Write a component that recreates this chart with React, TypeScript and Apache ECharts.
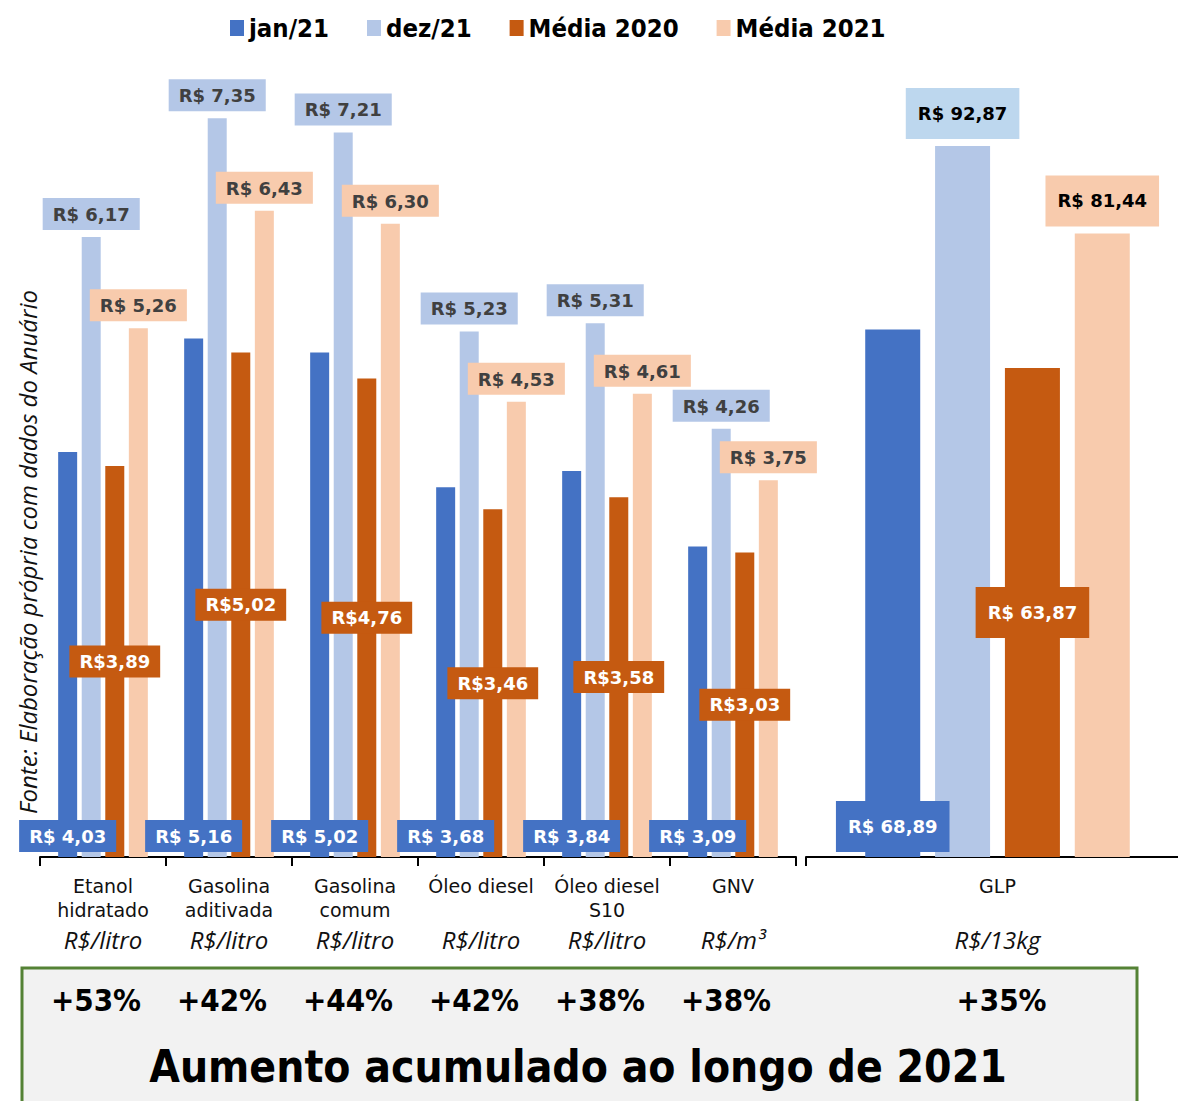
import React, { useEffect, useRef } from "react";
import * as echarts from "echarts";

// Fuel prices: January 2021, December 2021 and yearly averages
const categories = ["Etanol\nhidratado", "Gasolina\naditivada", "Gasolina\ncomum", "Óleo diesel", "Óleo diesel\nS10", "GNV"];
const units = ["R$/litro", "R$/litro", "R$/litro", "R$/litro", "R$/litro", "R$/m³"];
const jan21 = [4.03, 5.16, 5.02, 3.68, 3.84, 3.09];
const dez21 = [6.17, 7.35, 7.21, 5.23, 5.31, 4.26];
const media2020 = [3.89, 5.02, 4.76, 3.46, 3.58, 3.03];
const media2021 = [5.26, 6.43, 6.3, 4.53, 4.61, 3.75];

// GLP is priced per 13 kg cylinder, drawn on its own scale
const glpCategories = ["GLP"];
const glpUnits = ["R$/13kg"];
const glpJan21 = [68.89];
const glpDez21 = [92.87];
const glpMedia2020 = [63.87];
const glpMedia2021 = [81.44];

const seriesNames = ["jan/21", "dez/21", "Média 2020", "Média 2021"];
const colors = ["#4472c4", "#b4c7e7", "#c55a11", "#f8cbad"];

const LABEL_FONT = "'DejaVu Sans', sans-serif";
const COND_FONT = "'DejaVu Sans Condensed', 'DejaVu Sans', sans-serif";
const ITALIC_FONT = "'Open Sans', 'Noto Sans', sans-serif";

const money = (v: number, space = true) => "R$" + (space ? " " : "") + v.toFixed(2).replace(".", ",");

export default function App() {
  const ref = useRef<HTMLDivElement>(null);

  useEffect(() => {
    document.body.style.margin = "0";
    document.body.style.overflow = "hidden";
    document.documentElement.style.overflow = "hidden";
    const chart = echarts.init(ref.current!, null, { renderer: "svg" });

    const smallLabel = (pos: string, bg: string, color: string, space = true) => ({
      show: true,
      position: pos,
      distance: pos === "insideBottom" ? 5 : 7,
      formatter: (p: any) => money(p.value, space),
      color,
      backgroundColor: bg,
      padding: [6, 10, 5, 10],
      fontSize: 18,
      fontWeight: "bold",
      fontFamily: LABEL_FONT,
      lineHeight: 21,
    });
    const bigLabel = (pos: string, bg: string, color: string) => ({
      show: true,
      position: pos,
      distance: pos === "insideBottom" ? 5 : 7,
      formatter: (p: any) => money(p.value),
      color,
      backgroundColor: bg,
      padding: [14, 12, 14, 12],
      fontSize: 18,
      fontWeight: "bold",
      fontFamily: LABEL_FONT,
      lineHeight: 23,
    });

    const leftData = [jan21, dez21, media2020, media2021];
    const rightData = [glpJan21, glpDez21, glpMedia2020, glpMedia2021];
    const leftLabels = [
      smallLabel("insideBottom", colors[0], "#ffffff"),
      smallLabel("top", colors[1], "#404040"),
      smallLabel("inside", colors[2], "#ffffff", false),
      smallLabel("top", colors[3], "#404040"),
    ];
    const rightLabels = [
      bigLabel("insideBottom", colors[0], "#ffffff"),
      bigLabel("top", "#bdd7ee", "#000000"),
      bigLabel("inside", colors[2], "#ffffff"),
      bigLabel("top", colors[3], "#000000"),
    ];

    const series: any[] = [];
    seriesNames.forEach((name, i) => {
      series.push({
        name,
        type: "bar",
        xAxisIndex: 0,
        yAxisIndex: 0,
        data: leftData[i],
        barWidth: 19,
        barGap: "24%",
        itemStyle: { color: colors[i] },
        label: leftLabels[i],
      });
    });
    seriesNames.forEach((name, i) => {
      series.push({
        name,
        type: "bar",
        xAxisIndex: 1,
        yAxisIndex: 1,
        data: rightData[i],
        barWidth: 55,
        barGap: "27%",
        itemStyle: { color: colors[i] },
        label: rightLabels[i],
      });
    });

    const axisCommon = (data: string[], unitList: string[], gridIndex: number) => ({
      type: "category",
      gridIndex,
      data,
      axisLine: { show: true, lineStyle: { color: "#000", width: 2 } },
      axisTick: { show: true, length: 9, lineStyle: { color: "#000", width: 2 } },
      axisLabel: {
        interval: 0,
        margin: 17,
        formatter: (value: string, idx: number) => {
          const lines = value.split("\n");
          return `{a|${lines[0]}}\n{a|${lines[1] ?? " "}}\n{u|${unitList[idx]}}`;
        },
        rich: {
          a: { fontFamily: LABEL_FONT, fontSize: 19, color: "#111", lineHeight: 24, fontWeight: "normal" },
          u: { fontFamily: ITALIC_FONT, fontStyle: "italic", fontSize: 24, color: "#111", lineHeight: 34 },
        },
      },
    });

    chart.setOption({
      animation: false,
      legend: {
        data: seriesNames,
        left: 225,
        top: 10,
        icon: "rect",
        itemWidth: 14,
        itemHeight: 16,
        itemGap: 38,
        textStyle: { fontSize: 25.5, fontWeight: "bold", fontFamily: COND_FONT, color: "#000" },
      },
      grid: [
        { left: 40, top: 53, width: 756, height: 804 },
        { left: 806, top: 53, width: 383, height: 804 },
      ],
      xAxis: [axisCommon(categories, units, 0), axisCommon(glpCategories, glpUnits, 1)],
      yAxis: [
        { type: "value", gridIndex: 0, min: 0, max: 8, show: false, splitLine: { show: false } },
        { type: "value", gridIndex: 1, min: 0, max: 105, show: false, splitLine: { show: false } },
      ],
      series,
    });

    // Accumulated increase over 2021 (December vs January), placed under each category
    const increases = [
      ...jan21.map((v, i) => Math.round((dez21[i] / v - 1) * 100)),
      Math.round((glpDez21[0] / glpJan21[0] - 1) * 100),
    ];
    const centers = [
      ...categories.map((_, i) => (chart.convertToPixel({ xAxisIndex: 0 }, i) as number) - 7),
      (chart.convertToPixel({ xAxisIndex: 1 }, 0) as number) + 4,
    ];

    const graphic: any[] = [
      {
        type: "rect",
        shape: { x: 22, y: 968, width: 1115, height: 145 },
        style: { fill: "#f2f2f2", stroke: "#548235", lineWidth: 3 },
        z: -1,
      },
      ...increases.map((p, i) => ({
        type: "text",
        x: centers[i],
        y: 1000,
        style: {
          text: `+${p}%`,
          textAlign: "center",
          textVerticalAlign: "middle",
          font: `bold 31px ${COND_FONT}`,
          fill: "#000",
        },
      })),
      {
        type: "text",
        x: 578,
        y: 1066,
        style: {
          text: "Aumento acumulado ao longo de 2021",
          textAlign: "center",
          textVerticalAlign: "middle",
          font: `bold 44px ${COND_FONT}`,
          fill: "#000",
        },
      },
      {
        type: "text",
        x: 27,
        y: 552,
        rotation: Math.PI / 2,
        style: {
          text: "Fonte: Elaboração própria com dados do Anuário",
          textAlign: "center",
          textVerticalAlign: "middle",
          font: `italic 24px ${ITALIC_FONT}`,
          fill: "#111",
        },
      },
    ];
    chart.setOption({ graphic });

    return () => chart.dispose();
  }, []);

  return <div ref={ref} style={{ width: 1200, height: 1101 }} />;
}
